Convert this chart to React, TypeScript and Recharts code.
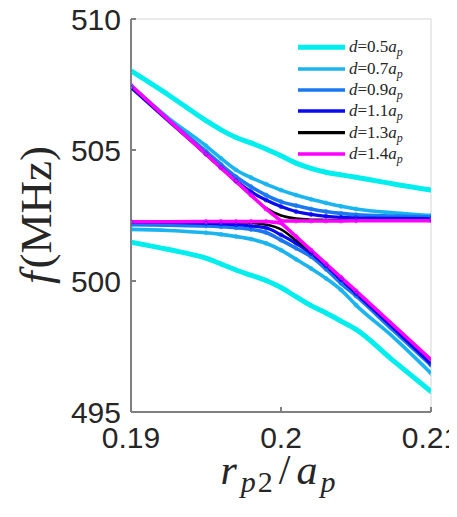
import React from 'react';
import { LineChart, Line, XAxis, YAxis, ReferenceLine, Legend, Label } from 'recharts';

// x positions (r_p2 / a_p)
const xs = [0.19, 0.1925, 0.195, 0.196, 0.197, 0.198, 0.199, 0.2, 0.201, 0.202, 0.203, 0.204, 0.205, 0.2075, 0.21];
// points that carry simulation markers
const markerXs = [0.19, 0.195, 0.196, 0.197, 0.198, 0.199, 0.2, 0.201, 0.202, 0.203, 0.204, 0.205, 0.21];

// f (MHz), upper and lower branches for each separation d
const upper05 = [508.02, 507.1, 506.12, 505.77, 505.48, 505.27, 505.04, 504.78, 504.5, 504.3, 504.15, 504.05, 503.96, 503.7, 503.47];
const lower05 = [501.48, 501.2, 500.87, 500.65, 500.42, 500.22, 500.02, 499.75, 499.4, 499.06, 498.78, 498.47, 498.15, 496.95, 495.78];
const upper07 = [507.46, 506.22, 505.16, 504.68, 504.24, 503.95, 503.7, 503.47, 503.28, 503.12, 502.98, 502.85, 502.75, 502.6, 502.5];
const lower07 = [501.97, 501.93, 501.84, 501.78, 501.7, 501.6, 501.44, 501.18, 500.83, 500.48, 500.1, 499.66, 499.08, 497.85, 496.48];
const upper09 = [507.42, 506.15, 504.95, 504.45, 503.98, 503.6, 503.28, 503.03, 502.88, 502.75, 502.65, 502.58, 502.53, 502.48, 502.45];
const lower09 = [502.15, 502.13, 502.1, 502.07, 502.03, 501.97, 501.85, 501.56, 501.25, 500.93, 500.45, 499.91, 499.43, 498.1, 496.79];
const upper11 = [507.38, 506.1, 504.85, 504.33, 503.83, 503.41, 503.09, 502.84, 502.65, 502.54, 502.47, 502.43, 502.41, 502.39, 502.38];
const lower11 = [502.25, 502.24, 502.2, 502.18, 502.15, 502.1, 502.03, 501.76, 501.44, 501.06, 500.58, 500.05, 499.53, 498.2, 496.83];
const upper13 = [507.43, 506.13, 504.83, 504.31, 503.79, 503.27, 502.78, 502.5, 502.38, 502.34, 502.33, 502.32, 502.32, 502.31, 502.31];
const lower13 = [502.26, 502.26, 502.26, 502.26, 502.25, 502.22, 502.15, 501.97, 501.55, 501.13, 500.64, 500.12, 499.6, 498.3, 496.98];
const upper14 = [507.47, 506.15, 504.84, 504.32, 503.8, 503.28, 502.75, 502.29, 502.29, 502.29, 502.29, 502.29, 502.3, 502.3, 502.3];
const lower14 = [502.26, 502.26, 502.27, 502.27, 502.27, 502.27, 502.27, 502.22, 501.7, 501.18, 500.66, 500.14, 499.62, 498.31, 497.0];

const dLabels = ['0.5', '0.7', '0.9', '1.1', '1.3', '1.4'];
const colors = ['#00EEEE', '#1AB4EE', '#1A78F0', '#0A0AF0', '#000000', '#FF00FF'];
const widths = [5, 3.6, 3.6, 3.2, 2.6, 3.6];
const showMarkers = [true, true, true, true, false, true];

const xTicks = [0.19, 0.2, 0.21];
const yTicks = [495, 500, 505, 510];

const uppers = [upper05, upper07, upper09, upper11, upper13, upper14];
const lowers = [lower05, lower07, lower09, lower11, lower13, lower14];

const data = xs.map((x, i) => {
  const row: any = { x, m: markerXs.includes(x) };
  uppers.forEach((arr, k) => { row['u' + k] = arr[i]; });
  lowers.forEach((arr, k) => { row['l' + k] = arr[i]; });
  return row;
});

const makeDot = (color: string) => (props: any) => {
  const { cx, cy, payload, index } = props;
  if (!payload || !payload.m || cx == null || cy == null) return <g key={'n' + index} />;
  return <circle key={'d' + index} cx={cx} cy={cy} r={2} fill="none" stroke={color} strokeWidth={1} strokeOpacity={0.75} />;
};

const LegendBox = () => {
  const rowsY = [9.3, 31, 52, 73, 94.7, 116];
  return (
    <svg width={140} height={128} style={{ display: 'block' }}>
      {dLabels.map((d, i) => (
        <g key={d}>
          <line x1={5} x2={52} y1={rowsY[i]} y2={rowsY[i]} stroke={colors[i]} strokeWidth={i === 0 ? 5 : 3.3} />
          <text x={56} y={rowsY[i] + 5} fontFamily="Liberation Serif" fontSize={17} fill="#262626">
            <tspan fontStyle="italic">d</tspan>
            <tspan>={d}</tspan>
            <tspan fontStyle="italic">a</tspan>
            <tspan fontStyle="italic" fontSize={12} dy={4}>p</tspan>
          </text>
        </g>
      ))}
    </svg>
  );
};

const YLabel = () => (
  <text transform="translate(43,207) rotate(-90)" textAnchor="middle" fontFamily="Liberation Serif" fontSize={45} fill="#262626">
    <tspan fontStyle="italic">f</tspan>
    <tspan dx={3}>(MHz)</tspan>
  </text>
);

const XLabel = () => (
  <text x={271} y={476} textAnchor="middle" fontFamily="Liberation Serif" fontSize={42} fill="#262626" letterSpacing={2}>
    <tspan fontStyle="italic">r</tspan>
    <tspan fontStyle="italic" fontSize={30} dx={2} dy={8}>p</tspan>
    <tspan fontSize={30}>2</tspan>
    <tspan dx={4} dy={-8}>/</tspan>
    <tspan fontStyle="italic" dx={4}>a</tspan>
    <tspan fontStyle="italic" fontSize={30} dx={1} dy={8}>p</tspan>
  </text>
);

const tickStyle = { fontFamily: 'Liberation Sans', fontSize: 30, fill: '#262626' };

export default function App() {
  const lines: any[] = [];
  for (let k = 0; k < 6; k++) {
    ['u', 'l'].forEach((b) => {
      lines.push(
        <Line
          key={b + k}
          dataKey={b + k}
          type={k === 5 ? 'linear' : 'monotone'}
          stroke={colors[k]}
          strokeWidth={widths[k]}
          dot={showMarkers[k] ? makeDot(colors[k]) : false}
          activeDot={false}
          isAnimationActive={false}
          legendType="none"
        />
      );
    });
  }
  return (
    <LineChart width={449} height={509} data={data} margin={{ top: 11, right: 26, left: 0, bottom: 45 }}>
      <ReferenceLine y={510} stroke="#e3e3e3" strokeWidth={1.5} />
      <ReferenceLine x={0.21} stroke="#e3e3e3" strokeWidth={1.5} />
      <XAxis
        dataKey="x"
        type="number"
        domain={[0.19, 0.21]}
        ticks={xTicks}
        interval={0}
        allowDataOverflow
        tickFormatter={(v: number) => String(v)}
        tick={tickStyle}
        tickSize={-5}
        tickMargin={20}
        stroke="#808080"
        strokeWidth={2}
        height={60}
      >
        <Label content={() => <XLabel />} />
      </XAxis>
      <YAxis
        type="number"
        domain={[495, 510]}
        ticks={yTicks}
        interval={0}
        allowDataOverflow
        tick={tickStyle}
        tickSize={-5}
        tickMargin={15}
        stroke="#808080"
        strokeWidth={2}
        width={123}
      >
        <Label content={() => <YLabel />} />
      </YAxis>
      {lines}
      <Legend
        layout="vertical"
        align="center"
        verticalAlign="middle"
        content={() => <LegendBox />}
        wrapperStyle={{ position: 'absolute', left: 285, top: 30, width: 140, height: 128 }}
      />
    </LineChart>
  );
}
